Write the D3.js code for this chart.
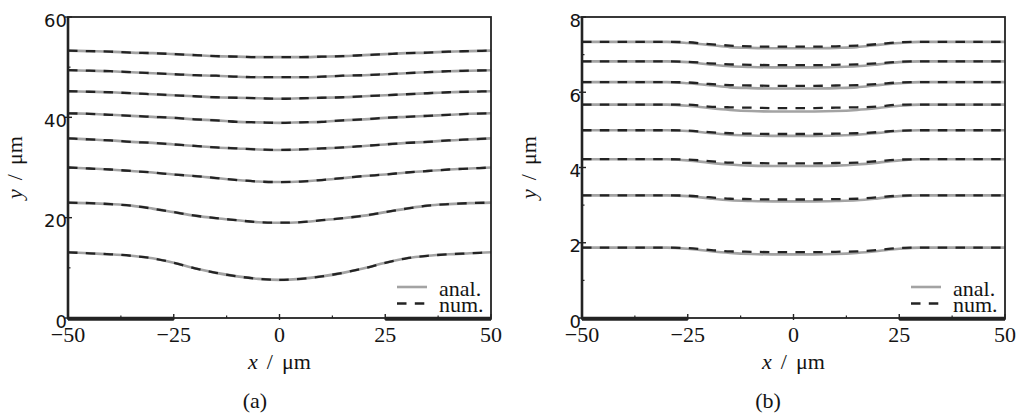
<!DOCTYPE html>
<html lang="en">
<head>
    <meta charset="UTF-8">
    <title>Field lines - anal. vs num.</title>
    <script src="https://cdn.jsdelivr.net/npm/d3@7"></script>
    <style>
        body { margin: 0; background: #fff; }
        text { font-family: "Liberation Serif", serif; fill: #141414; }
    </style>
</head>
<body>
    <script>
        // x positions (µm) shared by every curve
        const xPos = [-50,-45,-40,-35,-30,-25,-20,-15,-10,-5,0,5,10,15,20,25,30,35,40,45,50];

        // panel (a): analytic curves, bottom to top (µm)
        const analA = [
            [13.1,12.9,12.7,12.4,11.9,11.0,9.9,9.0,8.3,7.8,7.6,7.8,8.3,9.0,9.9,11.0,11.9,12.4,12.7,12.9,13.1],
            [23.0,22.9,22.7,22.4,21.8,21.1,20.4,19.9,19.5,19.1,19.0,19.1,19.5,19.9,20.4,21.1,21.8,22.4,22.7,22.9,23.0],
            [30.0,29.8,29.6,29.3,29.0,28.6,28.3,27.9,27.5,27.2,27.1,27.2,27.5,27.9,28.3,28.6,29.0,29.3,29.6,29.8,30.0],
            [35.8,35.6,35.4,35.1,34.9,34.6,34.3,34.0,33.8,33.6,33.5,33.6,33.8,34.0,34.3,34.6,34.9,35.1,35.4,35.6,35.8],
            [40.8,40.7,40.5,40.3,40.1,39.9,39.6,39.4,39.1,39.0,38.9,39.0,39.1,39.4,39.6,39.9,40.1,40.3,40.5,40.7,40.8],
            [45.2,45.1,45.0,44.8,44.6,44.4,44.2,44.0,43.9,43.8,43.7,43.8,43.9,44.0,44.2,44.4,44.6,44.8,45.0,45.1,45.2],
            [49.4,49.3,49.2,49.0,48.8,48.6,48.4,48.3,48.1,48.0,48.0,48.0,48.1,48.3,48.4,48.6,48.8,49.0,49.2,49.3,49.4],
            [53.3,53.2,53.1,52.9,52.8,52.6,52.4,52.2,52.1,52.0,52.0,52.0,52.1,52.2,52.4,52.6,52.8,52.9,53.1,53.2,53.3]
        ];
        // numerical result lies on top of the analytic one at this scale
        const numA = analA;

        // panel (b)
        const analB = [
            [1.87,1.87,1.87,1.87,1.87,1.84,1.78,1.73,1.70,1.69,1.69,1.69,1.70,1.73,1.78,1.84,1.87,1.87,1.87,1.87,1.87],
            [3.26,3.26,3.26,3.26,3.26,3.24,3.18,3.13,3.11,3.10,3.10,3.10,3.11,3.13,3.18,3.24,3.26,3.26,3.26,3.26,3.26],
            [4.22,4.22,4.22,4.22,4.22,4.19,4.13,4.08,4.05,4.04,4.04,4.04,4.05,4.08,4.13,4.19,4.22,4.22,4.22,4.22,4.22],
            [4.99,4.99,4.99,4.99,4.99,4.97,4.92,4.87,4.85,4.84,4.84,4.84,4.85,4.87,4.92,4.97,4.99,4.99,4.99,4.99,4.99],
            [5.67,5.67,5.67,5.67,5.67,5.64,5.58,5.53,5.50,5.49,5.49,5.49,5.50,5.53,5.58,5.64,5.67,5.67,5.67,5.67,5.67],
            [6.27,6.27,6.27,6.27,6.27,6.24,6.19,6.13,6.11,6.10,6.10,6.10,6.11,6.13,6.19,6.24,6.27,6.27,6.27,6.27,6.27],
            [6.82,6.82,6.82,6.82,6.82,6.80,6.74,6.69,6.67,6.66,6.66,6.66,6.67,6.69,6.74,6.80,6.82,6.82,6.82,6.82,6.82],
            [7.34,7.34,7.34,7.34,7.34,7.31,7.26,7.20,7.18,7.17,7.17,7.17,7.18,7.20,7.26,7.31,7.34,7.34,7.34,7.34,7.34]
        ];
        const numB = [
            [1.87,1.87,1.87,1.87,1.87,1.86,1.81,1.77,1.76,1.75,1.75,1.75,1.76,1.77,1.81,1.86,1.87,1.87,1.87,1.87,1.87],
            [3.26,3.26,3.26,3.26,3.26,3.25,3.21,3.17,3.16,3.15,3.15,3.15,3.16,3.17,3.21,3.25,3.26,3.26,3.26,3.26,3.26],
            [4.22,4.22,4.22,4.22,4.22,4.21,4.17,4.13,4.12,4.11,4.11,4.11,4.12,4.13,4.17,4.21,4.22,4.22,4.22,4.22,4.22],
            [4.99,4.99,4.99,4.99,4.99,4.98,4.94,4.91,4.90,4.89,4.89,4.89,4.90,4.91,4.94,4.98,4.99,4.99,4.99,4.99,4.99],
            [5.67,5.67,5.67,5.67,5.67,5.67,5.62,5.60,5.59,5.58,5.58,5.58,5.59,5.60,5.62,5.67,5.67,5.67,5.67,5.67,5.67],
            [6.27,6.27,6.27,6.27,6.27,6.26,6.22,6.19,6.18,6.17,6.17,6.17,6.18,6.19,6.22,6.26,6.27,6.27,6.27,6.27,6.27],
            [6.82,6.82,6.82,6.82,6.82,6.81,6.77,6.74,6.73,6.72,6.72,6.72,6.73,6.74,6.77,6.81,6.82,6.82,6.82,6.82,6.82],
            [7.34,7.34,7.34,7.34,7.34,7.33,7.28,7.24,7.22,7.21,7.21,7.21,7.22,7.24,7.28,7.33,7.34,7.34,7.34,7.34,7.34]
        ];

        // electrodes drawn as thick bars on the bottom axis
        const electrodes = [[-50,-25],[25,50]];

        const xTicks = [-50,-25,0,25,50];
        const xMinor = [-37.5,-12.5,12.5,37.5];
        const yTicksA = [0,20,40,60], yMinorA = [10,30,50];
        const yTicksB = [0,2,4,6,8], yMinorB = [1,3,5,7];

        const W = 1018, H = 415;
        const plotTop = 17, plotBottom = 318;
        const gray = "#a3a3a3", ink = "#232323";

        const svg = d3.select("body").append("svg")
            .attr("width", W).attr("height", H);

        function panel(left, right, yMax, yTicks, yMinor, anal, num, tag, capX) {
            const x = d3.scaleLinear().domain([-50, 50]).range([left, right]);
            const y = d3.scaleLinear().domain([0, yMax]).range([plotBottom, plotTop]);
            const g = svg.append("g");

            const line = d3.line()
                .x((d, i) => x(xPos[i]))
                .y(d => y(d))
                .curve(d3.curveMonotoneX);

            g.selectAll(".anal").data(anal).enter().append("path")
                .attr("d", line)
                .attr("fill", "none")
                .attr("stroke", gray)
                .attr("stroke-width", 2.6);

            g.selectAll(".num").data(num).enter().append("path")
                .attr("d", line)
                .attr("fill", "none")
                .attr("stroke", ink)
                .attr("stroke-width", 2.3)
                .attr("stroke-dasharray", "9.5,8.3");

            // frame
            g.append("rect")
                .attr("x", left).attr("y", plotTop)
                .attr("width", right - left).attr("height", plotBottom - plotTop)
                .attr("fill", "none").attr("stroke", ink).attr("stroke-width", 1.8);
            g.append("line")
                .attr("x1", left).attr("x2", left).attr("y1", plotTop).attr("y2", plotBottom + 1)
                .attr("stroke", ink).attr("stroke-width", 2.6);

            g.selectAll(".elec").data(electrodes).enter().append("line")
                .attr("x1", d => x(d[0])).attr("x2", d => x(d[1]))
                .attr("y1", y(0) + 0.7).attr("y2", y(0) + 0.7)
                .attr("stroke", ink).attr("stroke-width", 4);

            // ticks
            g.selectAll(".xt").data(xTicks).enter().append("line")
                .attr("x1", d => x(d)).attr("x2", d => x(d))
                .attr("y1", plotBottom + 2).attr("y2", plotBottom - 4)
                .attr("stroke", ink).attr("stroke-width", 1.4);
            g.selectAll(".xm").data(xMinor).enter().append("line")
                .attr("x1", d => x(d)).attr("x2", d => x(d))
                .attr("y1", plotBottom).attr("y2", plotBottom - 2.5)
                .attr("stroke", ink).attr("stroke-width", 1.2);
            g.selectAll(".yt").data(yTicks).enter().append("line")
                .attr("x1", left - 3).attr("x2", left + 4)
                .attr("y1", d => y(d)).attr("y2", d => y(d))
                .attr("stroke", ink).attr("stroke-width", 1.4);
            g.selectAll(".ym").data(yMinor).enter().append("line")
                .attr("x1", left).attr("x2", left + 2.5)
                .attr("y1", d => y(d)).attr("y2", d => y(d))
                .attr("stroke", ink).attr("stroke-width", 1.2);

            // tick labels
            g.selectAll(".xl").data(xTicks).enter().append("text")
                .attr("x", d => x(d)).attr("y", plotBottom + 24)
                .attr("text-anchor", "middle")
                .style("font-size", "22px")
                .text(d => d < 0 ? "\u2212" + Math.abs(d) : d);
            g.selectAll(".yl").data(yTicks).enter().append("text")
                .attr("x", left - 1).attr("y", d => y(d) + 9.5)
                .attr("text-anchor", "end")
                .style("font-family", "'DejaVu Sans', sans-serif")
                .style("font-size", "18px")
                .text(d => d);

            // axis titles
            const xt = g.append("text")
                .attr("x", (left + right) / 2).attr("y", 369)
                .attr("text-anchor", "middle")
                .style("font-size", "22px");
            xt.append("tspan").style("font-style", "italic").text("x");
            xt.append("tspan").attr("dx", 9).text("/");
            xt.append("tspan").attr("dx", 9).text("\u03bcm");

            const yt = g.append("text")
                .attr("transform", "translate(" + (left - 46) + "," + ((plotTop + plotBottom) / 2) + ") rotate(-90)")
                .attr("text-anchor", "middle")
                .style("font-size", "22px");
            yt.append("tspan").style("font-style", "italic").text("y");
            yt.append("tspan").attr("dx", 9).text("/");
            yt.append("tspan").attr("dx", 9).text("\u03bcm");

            g.append("text")
                .attr("x", capX).attr("y", 408)
                .attr("text-anchor", "middle")
                .style("font-size", "22px")
                .text(tag);

            // legend
            const lg = g.append("g");
            lg.append("line")
                .attr("x1", right - 94).attr("x2", right - 64)
                .attr("y1", 287).attr("y2", 287)
                .attr("stroke", gray).attr("stroke-width", 2.6);
            lg.append("line")
                .attr("x1", right - 94).attr("x2", right - 64)
                .attr("y1", 303.5).attr("y2", 303.5)
                .attr("stroke", ink).attr("stroke-width", 2.3)
                .attr("stroke-dasharray", "9.5,8.3");
            lg.append("text")
                .attr("x", right - 52).attr("y", 295.5)
                .style("font-size", "22px")
                .text("anal.");
            lg.append("text")
                .attr("x", right - 52).attr("y", 311.5)
                .style("font-size", "22px")
                .text("num.");
        }

        panel(68, 491, 60, yTicksA, yMinorA, analA, numA, "(a)", 255);
        panel(582, 1005, 8, yTicksB, yMinorB, analB, numB, "(b)", 768);
    </script>
</body>
</html>
